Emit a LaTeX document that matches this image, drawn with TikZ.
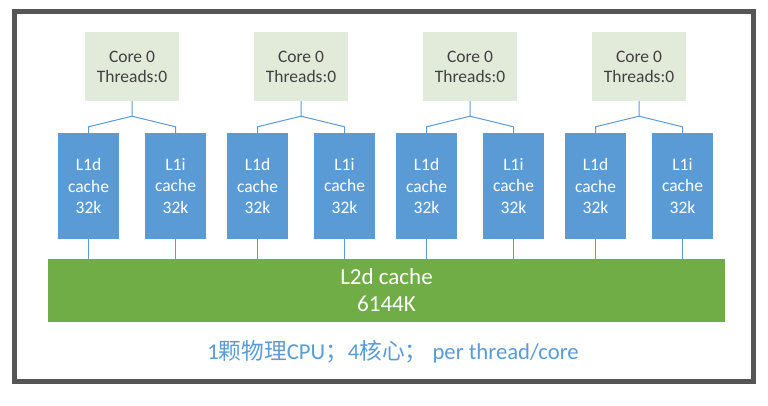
\documentclass[tikz,border=0pt]{standalone}
\usepackage{fontspec}
\setmainfont{Carlito}
\newfontfamily\cjk{Noto Sans CJK SC}
\definecolor{frame}{HTML}{555555}
\definecolor{corefill}{HTML}{E2EBD9}
\definecolor{lblue}{HTML}{5B9BD5}
\definecolor{lgreen}{HTML}{70AD47}
\definecolor{dtext}{HTML}{404040}
\tikzset{
  corebox/.style={rectangle, fill=corefill, minimum width=94pt, minimum height=69pt, inner sep=0pt, align=center, text=dtext, font=\fontsize{17.5}{20}\selectfont},
  l1box/.style={rectangle, fill=lblue, minimum width=61pt, minimum height=106pt, inner sep=0pt, align=center, text=white, font=\fontsize{17.5}{21.5}\selectfont},
  l2box/.style={rectangle, fill=lgreen, minimum width=677pt, minimum height=63pt, inner sep=0pt, align=center, text=white, font=\fontsize{23}{27}\selectfont},
  conn/.style={draw=lblue, line width=1pt},
}
\begin{document}
\begin{tikzpicture}[x=1pt,y=-1pt]
\useasboundingbox (0,0) rectangle (768,406);
\draw[frame, line width=5.5pt] (14.5,11.5) rectangle (753.5,381.5);
\node[l2box] (L2) at (386.5,290.5) {L2d cache\\6144K};
\foreach \i in {0,1,2,3}{
  \pgfmathsetmacro{\cx}{132+169*\i}
  \pgfmathsetmacro{\dx}{88.5+169*\i}
  \pgfmathsetmacro{\ix}{175.5+169*\i}
  \node[corebox] (c\i) at (\cx,66.5) {Core 0\\Threads:0};
  \node[l1box] (d\i) at (\dx,186) {L1d\\cache\\32k};
  \node[l1box] (n\i) at (\ix,186) {L1i\\cache\\32k};
  \draw[conn] (c\i.south) -- ++(0,15) coordinate (j\i) -- ([yshift=6pt]d\i.north) -- (d\i.north);
  \draw[conn] (j\i) -- ([yshift=6pt]n\i.north) -- (n\i.north);
  \draw[conn] (d\i.south) -- (d\i.south |- L2.north);
  \draw[conn] (n\i.south) -- (n\i.south |- L2.north);
}
\node[text=lblue, font=\fontsize{22.7}{26}\selectfont, inner sep=0pt] (cap) at (393,352) {1{\cjk 颗物理}CPU{\cjk ；}4{\cjk 核心；}\hspace{5pt}per thread/core};
\end{tikzpicture}
\end{document}
